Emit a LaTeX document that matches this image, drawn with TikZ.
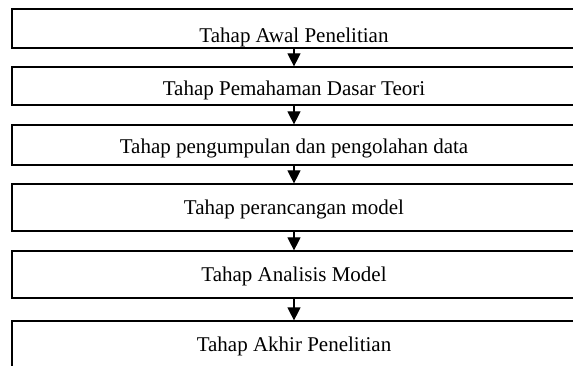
\documentclass[tikz,border=0pt]{standalone}
\usepackage{fontspec}
\setmainfont{Liberation Serif}
\usetikzlibrary{arrows.meta}

\begin{document}
\begin{tikzpicture}[x=1pt, y=-1pt, line width=1.2pt,
    stage/.style={rectangle, draw, inner sep=0pt, minimum width=564pt,
      text height=14pt, text depth=0pt, font=\fontsize{21}{25}\selectfont}]
  \useasboundingbox (0,0) rectangle (573,366);

  % Boxes
  \draw (294,28.5)  node(awal)    [stage, minimum height=39pt, text height=29pt] {Tahap Awal Penelitian};
  \draw (294,86)    node(teori)   [stage, minimum height=38pt, text height=20pt] {Tahap Pemahaman Dasar Teori};
  \draw (294,145)   node(data)    [stage, minimum height=40pt, text height=18pt] {Tahap pengumpulan dan pengolahan data};
  \draw (294,207.5) node(model)   [stage, minimum height=47pt] {Tahap perancangan model};
  \draw (294,274.5) node(analisis)[stage, minimum height=47pt] {Tahap Analisis Model};
  \draw (294,344.5) node(akhir)   [stage, minimum height=47pt] {Tahap Akhir Penelitian};

  % Arrows
  \path[-{Triangle[width=13pt,length=13pt]}] (awal) edge (teori);
  \path[-{Triangle[width=13pt,length=13pt]}] (teori) edge (data);
  \path[-{Triangle[width=13pt,length=13pt]}] (data) edge (model);
  \path[-{Triangle[width=13pt,length=13pt]}] (model) edge (analisis);
  \path[-{Triangle[width=13pt,length=13pt]}] (analisis) edge (akhir);
\end{tikzpicture}
\end{document}
